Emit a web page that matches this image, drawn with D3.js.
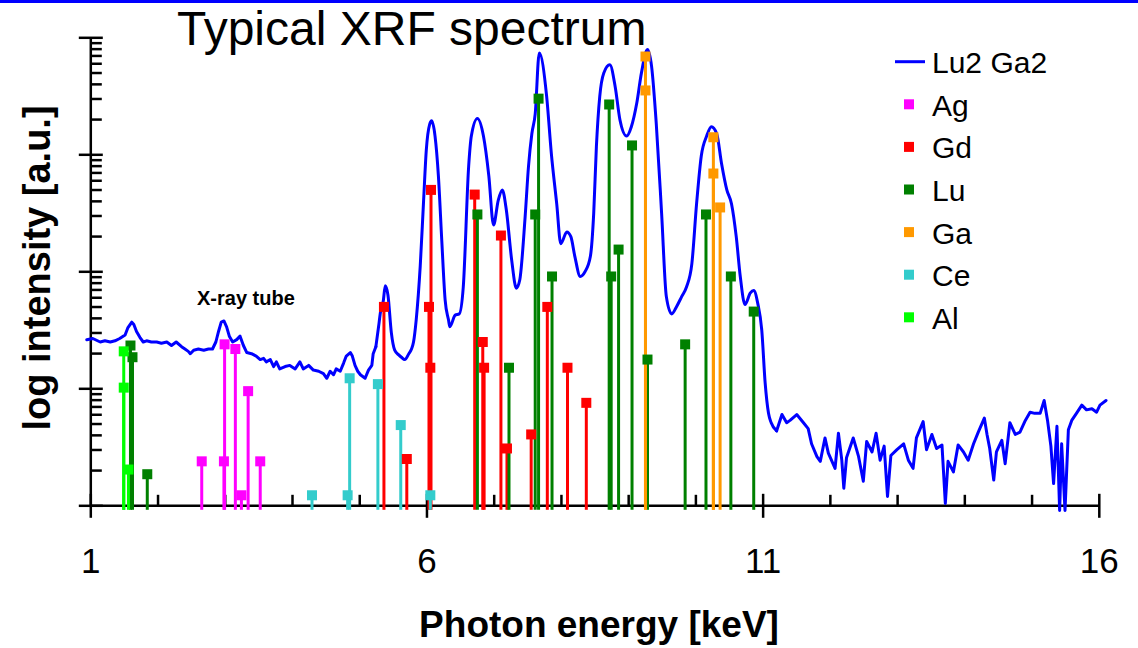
<!DOCTYPE html>
<html>
<head>
<meta charset="utf-8">
<script src="https://cdn.jsdelivr.net/npm/d3@7"></script>
<style>
  body { margin: 0; background: #fff; }
  svg { display: block; font-family: "Liberation Sans", Arial, sans-serif; }
</style>
</head>
<body>
<svg id="chart" width="1138" height="648"></svg>
<script>
// measured spectrum: [energy keV, log10 intensity]
const spectrum = [
  [0.94,1.42],[1.03,1.43],[1.14,1.40],[1.21,1.41],[1.29,1.40],[1.36,1.41],[1.43,1.43],[1.51,1.46],[1.55,1.52],[1.61,1.57],
  [1.64,1.55],[1.68,1.49],[1.73,1.44],[1.78,1.40],[1.83,1.41],[1.90,1.40],[1.98,1.40],[2.05,1.39],[2.13,1.40],[2.20,1.37],
  [2.27,1.40],[2.35,1.36],[2.40,1.34],[2.45,1.32],[2.48,1.30],[2.53,1.33],[2.60,1.34],[2.68,1.33],[2.75,1.34],[2.81,1.34],
  [2.86,1.40],[2.90,1.49],[2.94,1.57],[2.98,1.58],[3.02,1.53],[3.06,1.45],[3.11,1.40],[3.17,1.42],[3.22,1.45],[3.27,1.37],
  [3.32,1.31],[3.39,1.30],[3.46,1.28],[3.52,1.25],[3.57,1.26],[3.61,1.23],[3.67,1.25],[3.72,1.19],[3.76,1.23],[3.81,1.17],
  [3.89,1.19],[3.96,1.20],[4.04,1.17],[4.11,1.23],[4.16,1.17],[4.24,1.20],[4.31,1.16],[4.39,1.15],[4.46,1.13],[4.51,1.09],
  [4.56,1.15],[4.61,1.12],[4.65,1.17],[4.71,1.15],[4.76,1.22],[4.80,1.28],[4.86,1.31],[4.89,1.28],[4.93,1.20],[4.97,1.15],
  [5.01,1.12],[5.08,1.09],[5.13,1.16],[5.18,1.20],[5.20,1.30],[5.24,1.36],[5.28,1.53],[5.31,1.66],[5.35,1.75],[5.38,1.88],
  [5.42,1.80],[5.47,1.48],[5.52,1.33],[5.58,1.29],[5.62,1.27],[5.67,1.25],[5.73,1.30],[5.77,1.34],[5.80,1.40],[5.84,1.59],
  [5.90,2.05],[5.95,2.61],[5.99,3.04],[6.04,3.26],[6.07,3.29],[6.12,3.16],[6.17,2.82],[6.22,2.27],[6.27,1.76],[6.32,1.59],
  [6.34,1.53],[6.42,1.63],[6.48,1.64],[6.54,1.87],[6.62,2.90],[6.66,3.16],[6.75,3.31],[6.84,3.16],[6.92,2.82],[6.99,2.40],
  [7.06,2.61],[7.12,2.70],[7.18,2.53],[7.26,2.10],[7.33,1.86],[7.38,1.93],[7.46,2.47],[7.51,2.90],[7.56,3.18],[7.61,3.35],
  [7.67,3.87],[7.78,3.50],[7.85,3.01],[7.93,2.58],[7.99,2.24],[8.08,2.34],[8.14,2.30],[8.20,2.13],[8.28,1.96],[8.35,2.00],
  [8.43,2.13],[8.48,2.50],[8.52,3.07],[8.57,3.50],[8.63,3.70],[8.72,3.77],[8.80,3.58],[8.87,3.30],[8.97,3.16],[9.04,3.24],
  [9.12,3.44],[9.19,3.70],[9.28,3.90],[9.34,3.76],[9.41,3.27],[9.49,2.50],[9.56,1.79],[9.64,1.64],[9.71,1.70],[9.79,1.79],
  [9.86,1.87],[9.94,2.07],[10.01,2.58],[10.08,2.99],[10.16,3.16],[10.23,3.24],[10.31,3.18],[10.38,2.93],[10.46,2.70],[10.53,2.58],
  [10.60,2.30],[10.66,1.96],[10.73,1.72],[10.81,1.82],[10.86,1.84],[10.92,1.73],[10.98,1.50],[11.03,1.05],[11.08,0.79],[11.12,0.71],
  [11.20,0.64],[11.28,0.78],[11.35,0.71],[11.40,0.73],[11.50,0.78],[11.60,0.71],[11.67,0.66],[11.72,0.53],[11.80,0.42],[11.85,0.38],
  [11.92,0.58],[11.97,0.45],[12.07,0.32],[12.12,0.62],[12.17,0.39],[12.20,0.15],[12.24,0.41],[12.34,0.58],[12.42,0.42],[12.49,0.21],
  [12.54,0.55],[12.62,0.46],[12.68,0.62],[12.74,0.39],[12.80,0.51],[12.85,0.08],[12.90,0.43],[12.99,0.48],[13.09,0.53],[13.16,0.39],
  [13.23,0.32],[13.28,0.58],[13.38,0.72],[13.43,0.48],[13.51,0.61],[13.58,0.49],[13.66,0.52],[13.71,0.02],[13.75,0.38],[13.83,0.29],
  [13.90,0.52],[13.98,0.46],[14.05,0.39],[14.13,0.53],[14.20,0.63],[14.29,0.75],[14.33,0.61],[14.37,0.49],[14.43,0.22],[14.47,0.46],
  [14.55,0.56],[14.60,0.36],[14.67,0.71],[14.75,0.61],[14.82,0.63],[14.90,0.73],[14.97,0.80],[15.04,0.79],[15.12,0.79],[15.18,0.90],
  [15.23,0.73],[15.28,0.51],[15.32,0.19],[15.37,0.68],[15.41,-0.04],[15.44,0.53],[15.49,-0.04],[15.54,0.65],[15.59,0.73],[15.66,0.79],
  [15.74,0.86],[15.81,0.82],[15.89,0.83],[15.96,0.80],[16.01,0.86],[16.10,0.90]
];

// emission lines per element: [energy keV, log10 intensity]
const agLines = [[2.65,0.38],[2.99,1.38],[2.98,0.38],[3.15,1.34],[3.24,0.09],[3.34,0.98],[3.52,0.38]];
const gdLines = [[5.36,1.70],[5.70,0.40],[6.03,1.70],[6.06,2.70],[6.05,1.18],[6.71,2.66],[6.83,1.40],[6.85,1.18],
                 [7.10,2.31],[7.19,0.49],[7.55,0.61],[7.79,1.70],[8.09,1.18],[8.37,0.88]];
const luLines = [[1.59,1.37],[1.62,1.27],[1.84,0.27],[6.75,2.49],[7.22,1.18],[7.61,2.49],[7.66,3.48],[7.86,1.96],
                 [8.71,3.43],[8.74,1.96],[8.85,2.19],[9.05,3.08],[9.28,1.25],[9.84,1.38],[10.15,2.49],[10.52,1.96],[10.86,1.66]];
const gaLines = [[9.25,3.84],[9.25,3.55],[10.26,3.15],[10.26,2.84],[10.36,2.55]];
const ceLines = [[4.29,0.09],[4.82,0.09],[4.85,1.09],[5.27,1.04],[5.61,0.69],[6.05,0.09]];
const alLines = [[1.49,1.32],[1.49,1.01],[1.56,0.31]];

const elements = ['Ag', 'Gd', 'Lu', 'Ga', 'Ce', 'Al'];
const elementColors = ['#ff00ff', '#ff0000', '#008000', '#ff9900', '#33cccc', '#00ff00'];
const elementLines = [agLines, gdLines, luLines, gaLines, ceLines, alLines];

const xMajor = [1, 6, 11, 16];
const decades = [0, 1, 2, 3, 4];

const svg = d3.select('#chart');

svg.append('rect')
    .attr('x', 0).attr('y', 0)
    .attr('width', 1138).attr('height', 3)
    .attr('fill', '#0000ff');

const x = d3.scaleLinear().domain([1, 16]).range([90.8, 1099.3]);
const y = d3.scaleLinear().domain([0, 4]).range([505.8, 37.8]);

// axes
const axes = svg.append('g').attr('stroke', '#000').attr('stroke-width', 2.5);

axes.append('line')
    .attr('x1', x(1)).attr('x2', x(1))
    .attr('y1', y(4)).attr('y2', y(0));
axes.append('line')
    .attr('x1', x(1)).attr('x2', x(16))
    .attr('y1', y(0)).attr('y2', y(0));

const yMinor = d3.range(0, 4).flatMap(d => d3.range(2, 10).map(k => d + Math.log10(k)));

axes.selectAll('.ymajor')
  .data(decades)
  .join('line')
    .attr('class', 'ymajor')
    .attr('x1', x(1) - 12).attr('x2', x(1) + 12)
    .attr('y1', d => y(d)).attr('y2', d => y(d));

axes.selectAll('.yminor')
  .data(yMinor)
  .join('line')
    .attr('class', 'yminor')
    .attr('x1', x(1)).attr('x2', x(1) + 11)
    .attr('y1', d => y(d)).attr('y2', d => y(d));

const xMinor = d3.range(2, 16).filter(d => !xMajor.includes(d));

axes.selectAll('.xmajor')
  .data(xMajor)
  .join('line')
    .attr('class', 'xmajor')
    .attr('x1', d => x(d)).attr('x2', d => x(d))
    .attr('y1', y(0) - 12).attr('y2', y(0) + 12);

axes.selectAll('.xminor')
  .data(xMinor)
  .join('line')
    .attr('class', 'xminor')
    .attr('x1', d => x(d)).attr('x2', d => x(d))
    .attr('y1', y(0) - 11).attr('y2', y(0));

svg.selectAll('.xlabel')
  .data(xMajor)
  .join('text')
    .attr('class', 'xlabel')
    .attr('x', d => x(d))
    .attr('y', 573)
    .attr('text-anchor', 'middle')
    .attr('font-size', 35)
    .text(d => d);

// spectrum: noisy background straight, peak region smoothed
const smoothFrom = 5.24, smoothTo = 11.20;
const parts = [
  {pts: spectrum.filter(d => d[0] <= smoothFrom), curve: d3.curveLinear},
  {pts: spectrum.filter(d => d[0] >= smoothFrom && d[0] <= smoothTo), curve: d3.curveMonotoneX},
  {pts: spectrum.filter(d => d[0] >= smoothTo), curve: d3.curveLinear}
];

svg.append('g')
  .selectAll('path')
  .data(parts)
  .join('path')
    .attr('fill', 'none')
    .attr('stroke', '#0000ff')
    .attr('stroke-width', 3)
    .attr('stroke-linejoin', 'round')
    .attr('stroke-linecap', 'round')
    .attr('d', p => d3.line().x(d => x(d[0])).y(d => y(d[1])).curve(p.curve)(p.pts));

// emission line stems, then markers on top
const stems = svg.append('g');
const marks = svg.append('g');

elements.forEach((name, i) => {
  stems.selectAll(`.stem-${name}`)
    .data(elementLines[i])
    .join('line')
      .attr('class', `stem-${name}`)
      .attr('x1', d => x(d[0])).attr('x2', d => x(d[0]))
      .attr('y1', d => y(d[1])).attr('y2', y(0) + 4)
      .attr('stroke', elementColors[i])
      .attr('stroke-width', 3);
});

elements.forEach((name, i) => {
  marks.selectAll(`.mark-${name}`)
    .data(elementLines[i])
    .join('rect')
      .attr('class', `mark-${name}`)
      .attr('x', d => x(d[0]) - 5).attr('y', d => y(d[1]) - 5)
      .attr('width', 10).attr('height', 10)
      .attr('fill', elementColors[i]);
});

// texts
svg.append('text')
    .attr('x', 177).attr('y', 45)
    .attr('font-size', 48)
    .text('Typical XRF spectrum');

svg.append('text')
    .attr('x', 197).attr('y', 305)
    .attr('font-size', 20)
    .attr('font-weight', 'bold')
    .text('X-ray tube');

svg.append('text')
    .attr('x', 599).attr('y', 637)
    .attr('text-anchor', 'middle')
    .attr('font-size', 37)
    .attr('font-weight', 'bold')
    .text('Photon energy [keV]');

svg.append('text')
    .attr('transform', 'translate(50,268) rotate(-90)')
    .attr('text-anchor', 'middle')
    .attr('font-size', 38)
    .attr('font-weight', 'bold')
    .text('log intensity [a.u.]');

// legend
const legend = svg.append('g').attr('transform', 'translate(895,0)');
const rowY = 61.7, rowStep = 42.6;

legend.append('line')
    .attr('x1', 0).attr('x2', 30)
    .attr('y1', rowY).attr('y2', rowY)
    .attr('stroke', '#0000ff').attr('stroke-width', 3);
legend.append('text')
    .attr('x', 37).attr('y', rowY + 11.5)
    .attr('font-size', 30)
    .text('Lu2 Ga2');

const rows = legend.selectAll('.row')
  .data(elements)
  .join('g')
    .attr('class', 'row')
    .attr('transform', (d, i) => `translate(0,${rowY + (i + 1) * rowStep})`);
rows.append('rect')
    .attr('x', 9).attr('y', -5)
    .attr('width', 10).attr('height', 10)
    .attr('fill', (d, i) => elementColors[i]);
rows.append('text')
    .attr('x', 37).attr('y', 11.5)
    .attr('font-size', 30)
    .text(d => d);
</script>
</body>
</html>
